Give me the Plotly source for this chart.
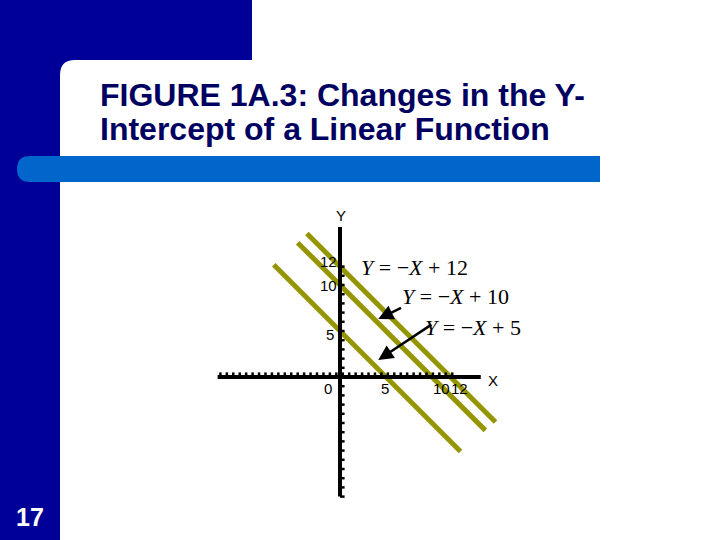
import numpy as np
import plotly.graph_objects as go

# --- chart data ---
intercepts = [12, 10, 5]
eq_labels = ["<i>Y</i> = −<i>X</i> + 12", "<i>Y</i> = −<i>X</i> + 10", "<i>Y</i> = −<i>X</i> + 5"]
line_x_start = [-3.6, -4.6, -7.2]
line_x_end = [16.9, 15.8, 13.1]

x_axis_span = [-13.3, 15.3]
y_axis_span = [-13.0, 16.3]

y_tick_labels = ["12", "10", "5", "0"]
y_tick_label_pos = [(-1.3, 12.6), (-1.3, 10.0), (-1.1, 4.6), (-1.3, -1.3)]
x_tick_labels = ["5", "10", "12"]
x_tick_label_pos = [(4.9, -1.3), (11.0, -1.3), (13.0, -1.3)]

W, H = 720, 540
OX, OY, S = 340, 377, 9.2   # origin pixel and pixels per unit


def px(x, y):
    """pixel -> paper coords string for shape paths"""
    return f"{x / W:.5f},{1 - y / H:.5f}"


OLIVE = "#959500"
NAVY = "#000099"

fig = go.Figure()

# the three lines
for b, x0, x1 in zip(intercepts, line_x_start, line_x_end):
    xs = [x0, x1]
    fig.add_trace(go.Scatter(x=xs, y=[-x + b for x in xs], mode="lines",
                             line=dict(color=OLIVE, width=5), hoverinfo="skip"))

# axes
fig.add_trace(go.Scatter(x=x_axis_span, y=[0, 0], mode="lines",
                         line=dict(color="black", width=4), hoverinfo="skip"))
fig.add_trace(go.Scatter(x=[0, 0], y=y_axis_span, mode="lines",
                         line=dict(color="black", width=4), hoverinfo="skip"))

# small tick marks
tx, ty = [], []
for t in np.arange(-13.0, 12.8, 0.7):
    tx += [t, t, None]
    ty += [0, 0.5, None]
for t in np.arange(-13, 13, 1):
    tx += [0, 0.5, None]
    ty += [t, t, None]
fig.add_trace(go.Scatter(x=tx, y=ty, mode="lines",
                         line=dict(color="black", width=2.5), hoverinfo="skip"))

ann = []
# equation labels
for txt, (x, y) in zip(eq_labels, [(2.07, 11.9), (6.5, 8.7), (9.0, 5.4)]):
    ann.append(dict(x=x, y=y, text=txt, showarrow=False, xanchor="left", yanchor="middle",
                    font=dict(family="Liberation Serif, Times New Roman", size=22, color="black")))
# arrows
for (hx, hy), (tx_, ty_) in [((4.16, 6.3), (6.8, 7.6)), ((4.16, 1.85), (10.1, 5.8))]:
    ann.append(dict(x=hx, y=hy, ax=tx_, ay=ty_, xref="x", yref="y", axref="x", ayref="y",
                    text="", showarrow=True, arrowhead=2, arrowsize=1.2, arrowwidth=2.5,
                    arrowcolor="black"))
# tick labels and axis names
for txt, (x, y) in list(zip(y_tick_labels, y_tick_label_pos)) + list(zip(x_tick_labels, x_tick_label_pos)):
    ann.append(dict(x=x, y=y, text=txt, showarrow=False, xanchor="center",
                    font=dict(family="Liberation Sans, Arial", size=15, color="black")))
ann.append(dict(x=0.1, y=17.6, text="Y", showarrow=False, xanchor="center",
                font=dict(family="Liberation Sans, Arial", size=15, color="black")))
ann.append(dict(x=16.6, y=-0.4, text="X", showarrow=False, xanchor="center",
                font=dict(family="Liberation Sans, Arial", size=15, color="black")))

# slide title and page number
for txt, yp in [("FIGURE 1A.3: Changes in the Y-", 95), ("Intercept of a Linear Function", 129)]:
    ann.append(dict(xref="paper", yref="paper", x=98 / W, y=1 - yp / H, text="<b>" + txt + "</b>",
                    showarrow=False, xanchor="left", yanchor="middle",
                    font=dict(family="Liberation Sans, Arial", size=32, color="#000060")))
ann.append(dict(xref="paper", yref="paper", x=30 / W, y=1 - 517 / H, text="<b>17</b>",
                showarrow=False, xanchor="center", yanchor="middle",
                font=dict(family="Liberation Sans, Arial", size=25, color="white")))

shapes = [
    dict(type="path", xref="paper", yref="paper", layer="below", line=dict(width=0),
         fillcolor=NAVY,
         path=f"M{px(0,0)} L{px(252,0)} L{px(252,60)} L{px(75,60)} Q{px(60,60)} {px(60,75)} "
              f"L{px(60,540)} L{px(0,540)} Z"),
    dict(type="path", xref="paper", yref="paper", layer="below", line=dict(width=0),
         fillcolor="#0066cc",
         path=f"M{px(30,156)} L{px(600,156)} L{px(600,182)} L{px(30,182)} "
              f"Q{px(17,182)} {px(17,169)} Q{px(17,156)} {px(30,156)} Z"),
]

fig.update_layout(
    width=W, height=H, margin=dict(l=0, r=0, t=0, b=0),
    showlegend=False, paper_bgcolor="white", plot_bgcolor="white",
    xaxis=dict(range=[-OX / S, (W - OX) / S], visible=False, fixedrange=True),
    yaxis=dict(range=[-(H - OY) / S, OY / S], visible=False, fixedrange=True),
    annotations=ann, shapes=shapes,
)

fig.write_html("out.html", config={"displayModeBar": False},
               post_script="document.body.style.margin='0';document.body.style.overflow='hidden';")
